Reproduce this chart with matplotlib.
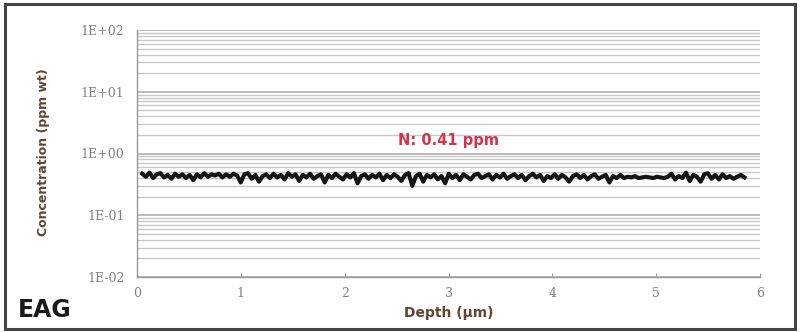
import numpy as np
import matplotlib
matplotlib.use("Agg")
import matplotlib.pyplot as plt
from matplotlib.patches import Rectangle
from matplotlib.ticker import LogLocator, FixedLocator, FuncFormatter

conc = [
    0.47,0.42,0.49,0.40,0.46,0.48,0.41,0.45,0.39,0.47,0.42,0.46,
    0.40,0.45,0.37,0.46,0.41,0.48,0.42,0.46,0.44,0.47,0.41,0.46,
    0.42,0.47,0.44,0.34,0.46,0.48,0.39,0.45,0.35,0.43,0.46,0.40,
    0.47,0.41,0.45,0.38,0.48,0.42,0.46,0.36,0.45,0.41,0.47,0.39,
    0.43,0.46,0.34,0.45,0.40,0.47,0.42,0.38,0.46,0.41,0.48,0.33,
    0.43,0.46,0.39,0.45,0.41,0.47,0.37,0.45,0.40,0.46,0.42,0.36,
    0.45,0.48,0.30,0.43,0.47,0.35,0.45,0.41,0.46,0.38,0.43,0.33,
    0.47,0.40,0.45,0.37,0.46,0.42,0.38,0.45,0.47,0.40,0.43,0.46,
    0.38,0.45,0.41,0.47,0.39,0.43,0.46,0.40,0.45,0.37,0.43,0.47,
    0.41,0.45,0.36,0.43,0.40,0.46,0.39,0.45,0.41,0.35,0.43,0.46,
    0.40,0.45,0.38,0.43,0.46,0.39,0.42,0.45,0.34,0.43,0.40,0.45,
    0.40,0.42,0.41,0.43,0.40,0.41,0.42,0.41,0.40,0.42,0.41,0.40,
    0.42,0.47,0.38,0.43,0.40,0.49,0.36,0.45,0.42,0.35,0.46,0.48,
    0.39,0.45,0.38,0.46,0.40,0.43,0.39,0.42,0.45,0.41,
]
depth_start, depth_end = 0.05, 5.85
depth = np.linspace(depth_start, depth_end, len(conc))

x_ticks = [0, 1, 2, 3, 4, 5, 6]
y_ticks = [1e-2, 1e-1, 1e0, 1e1, 1e2]
y_tick_labels = ["1E-02", "1E-01", "1E+00", "1E+01", "1E+02"]
annotation_text = "N: 0.41 ppm"
x_label = "Depth (µm)"
y_label = "Concentration (ppm wt)"

fig = plt.figure(figsize=(8, 3.32), dpi=100)
ax = fig.add_axes([137/800, 1-277/332, (760-137)/800, (277-30)/332])

ax.set_yscale("log")
ax.set_ylim(1e-2, 1e2)
ax.set_xlim(0, 6)

ax.yaxis.set_major_locator(FixedLocator(y_ticks))
ax.yaxis.set_major_formatter(FuncFormatter(lambda v, p: y_tick_labels[y_ticks.index(v)] if v in y_ticks else ""))
ax.yaxis.set_minor_locator(LogLocator(base=10, subs=np.arange(2, 10)))
ax.xaxis.set_major_locator(FixedLocator(x_ticks))

ax.grid(True, which="major", axis="y", color="#b5b5b5", linewidth=1.3)
ax.grid(True, which="minor", axis="y", color="#c8c8c8", linewidth=1.0)
ax.set_axisbelow(True)

ax.plot(depth, conc, color="#151515", linewidth=3.0, solid_joinstyle="round")

for s in ["top", "right"]:
    ax.spines[s].set_visible(False)
for s in ["left", "bottom"]:
    ax.spines[s].set_color("#999999")
    ax.spines[s].set_linewidth(1.0)

ax.tick_params(axis="y", which="both", length=0, pad=9, labelsize=9, labelcolor="#808080")
ax.tick_params(axis="x", which="major", direction="in", length=3, color="#999999",
               pad=7, labelsize=9, labelcolor="#808080")
for lbl in ax.get_xticklabels() + ax.get_yticklabels():
    lbl.set_family("DejaVu Serif")

ax.text(3.0, 1.6, annotation_text, color="#d7324c", fontsize=10.5, fontweight="bold",
        ha="center", va="center", family="DejaVu Sans")

fig.text(449/800, 1-313/332, x_label, ha="center", va="center", fontsize=10,
         fontweight="bold", color="#5e4630", family="DejaVu Sans")
fig.text(44/800, 1-152/332, y_label, ha="center", va="center", rotation=90,
         fontsize=9, fontweight="bold", color="#5e4630", family="DejaVu Sans")

fig.text(18/800, 1-310/332, "EAG", ha="left", va="center", fontsize=17,
         fontweight="bold", color="#1a1a1a", family="DejaVu Sans")

fig.patches.append(Rectangle((5/800, 3/332), 790/800, 325/332, transform=fig.transFigure,
                             fill=False, edgecolor="#444444", linewidth=2.2, figure=fig))

fig.savefig("out.png", dpi=100)
